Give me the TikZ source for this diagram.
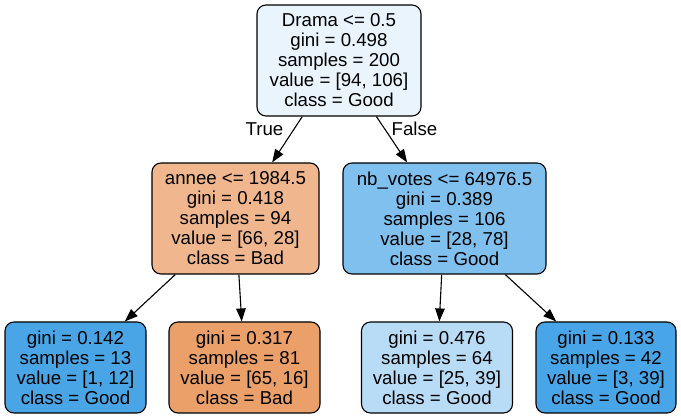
\documentclass[tikz,border=0pt]{standalone}
\usepackage{fontspec}
\setmainfont{Liberation Sans}
\usetikzlibrary{arrows.meta}
\definecolor{cRoot}{HTML}{E9F4FC}
\definecolor{cAnnee}{HTML}{F0B68D}
\definecolor{cVotes}{HTML}{80C0EE}
\definecolor{cLeafA}{HTML}{4AA5E7}
\definecolor{cLeafB}{HTML}{EBA06A}
\definecolor{cLeafC}{HTML}{B8DCF6}
\definecolor{cLeafD}{HTML}{48A5E7}
\begin{document}
\begin{tikzpicture}[x=1pt,y=-1pt,
  box/.style={draw=black, line width=1.1pt, rounded corners=9pt, inner sep=0pt,
    align=center, font=\fontsize{18.67}{20}\selectfont, minimum height=111pt},
  leafbox/.style={box, minimum height=91pt},
  edgelbl/.style={font=\fontsize{18.67}{20}\selectfont, anchor=base, inner sep=0pt},
  edge/.style={line width=1.1pt, draw=black, -{Triangle[length=13pt,width=9.5pt]}}]
\useasboundingbox (0,0) rectangle (681,419);
\node[box, fill=cRoot, minimum width=164pt] (root) at (339,60.5)
  {Drama <= 0.5\\gini = 0.498\\samples = 200\\value = [94, 106]\\class = Good};
\node[box, fill=cAnnee, minimum width=167pt] (annee) at (235.5,218.5)
  {annee <= 1984.5\\gini = 0.418\\samples = 94\\value = [66, 28]\\class = Bad};
\node[box, fill=cVotes, minimum width=203pt] (votes) at (444.5,218.5)
  {nb\_votes <= 64976.5\\gini = 0.389\\samples = 106\\value = [28, 78]\\class = Good};
\node[leafbox, fill=cLeafA, minimum width=141pt] (l1) at (75.5,367.5)
  {gini = 0.142\\samples = 13\\value = [1, 12]\\class = Good};
\node[leafbox, fill=cLeafB, minimum width=151pt] (l2) at (244.5,367.5)
  {gini = 0.317\\samples = 81\\value = [65, 16]\\class = Bad};
\node[leafbox, fill=cLeafC, minimum width=151pt] (l3) at (437,367.5)
  {gini = 0.476\\samples = 64\\value = [25, 39]\\class = Good};
\node[leafbox, fill=cLeafD, minimum width=140pt] (l4) at (606,367.5)
  {gini = 0.133\\samples = 42\\value = [3, 39]\\class = Good};
\draw[edge] (root) -- (annee);
\draw[edge] (root) -- (votes);
\draw[edge] (annee) -- (l1);
\draw[edge] (annee) -- (l2);
\draw[edge] (votes) -- (l3);
\draw[edge] (votes) -- (l4);
\node[edgelbl] (tlbl) at (264.5,136) {True};
\node[edgelbl] (flbl) at (414.5,136) {False};
\end{tikzpicture}
\end{document}
